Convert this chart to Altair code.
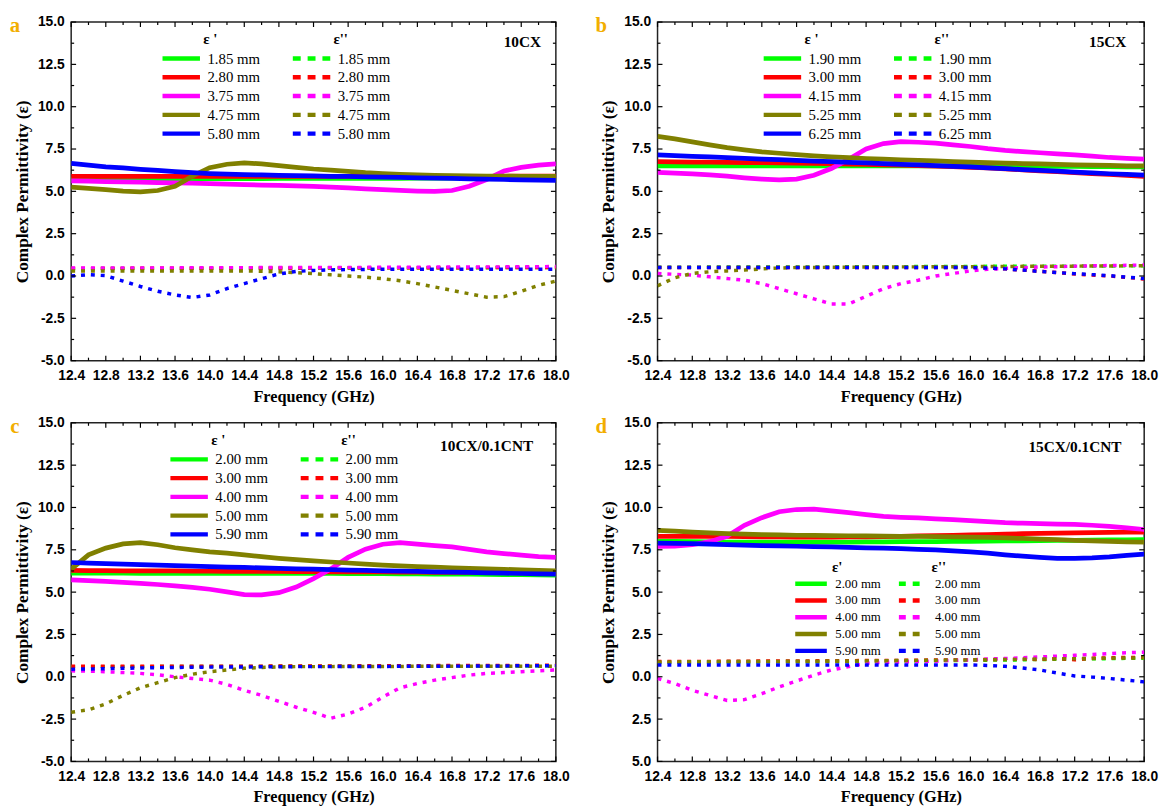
import altair as alt
import pandas as pd

# ---------------- data ----------------
FREQ = [12.4, 12.6, 12.8, 13.0, 13.2, 13.4, 13.6, 13.8, 14.0, 14.2, 14.4, 14.6, 14.8, 15.0, 15.2,
        15.4, 15.6, 15.8, 16.0, 16.2, 16.4, 16.6, 16.8, 17.0, 17.2, 17.4, 17.6, 17.8, 18.0]

X_MAJOR = [12.4, 12.8, 13.2, 13.6, 14.0, 14.4, 14.8, 15.2, 15.6, 16.0, 16.4, 16.8, 17.2, 17.6, 18.0]
X_MINOR = [12.6, 13.0, 13.4, 13.8, 14.2, 14.6, 15.0, 15.4, 15.8, 16.2, 16.6, 17.0, 17.4, 17.8]
Y_MAJOR = [-5.0, -2.5, 0.0, 2.5, 5.0, 7.5, 10.0, 12.5, 15.0]
Y_MINOR = [-3.75, -1.25, 1.25, 3.75, 6.25, 8.75, 11.25, 13.75]

COLORS = ["#00FF00", "#FF0000", "#FF00FF", "#808000", "#0000FF"]

# Panel a : 10CX
A_THICK = ["1.85 mm", "2.80 mm", "3.75 mm", "4.75 mm", "5.80 mm"]
A_REAL = [
    [5.72, 5.72, 5.73, 5.73, 5.73, 5.74, 5.74, 5.74, 5.75, 5.75, 5.75, 5.75, 5.76, 5.76, 5.76, 5.76, 5.77, 5.77, 5.77, 5.77, 5.78, 5.78, 5.78, 5.78, 5.78, 5.79, 5.79, 5.79, 5.79],
    [5.88, 5.88, 5.88, 5.88, 5.88, 5.88, 5.88, 5.88, 5.88, 5.88, 5.88, 5.88, 5.88, 5.88, 5.88, 5.88, 5.88, 5.88, 5.88, 5.88, 5.89, 5.89, 5.89, 5.89, 5.89, 5.89, 5.90, 5.90, 5.90],
    [5.62, 5.60, 5.58, 5.56, 5.54, 5.52, 5.50, 5.48, 5.46, 5.43, 5.40, 5.37, 5.35, 5.33, 5.30, 5.25, 5.20, 5.15, 5.10, 5.06, 5.02, 5.00, 5.05, 5.30, 5.70, 6.20, 6.42, 6.55, 6.62],
    [5.25, 5.18, 5.10, 5.02, 4.97, 5.05, 5.30, 5.90, 6.40, 6.60, 6.68, 6.62, 6.52, 6.42, 6.32, 6.25, 6.18, 6.10, 6.05, 6.00, 5.97, 5.95, 5.93, 5.92, 5.90, 5.90, 5.89, 5.88, 5.88],
    [6.65, 6.55, 6.45, 6.38, 6.30, 6.24, 6.17, 6.10, 6.05, 6.02, 5.99, 5.97, 5.95, 5.93, 5.91, 5.89, 5.88, 5.86, 5.84, 5.82, 5.80, 5.78, 5.76, 5.74, 5.72, 5.70, 5.68, 5.66, 5.65],
]
A_IMAG = [
    [0.43, 0.43, 0.44, 0.44, 0.44, 0.44, 0.45, 0.45, 0.45, 0.45, 0.46, 0.46, 0.46, 0.46, 0.47, 0.47, 0.47, 0.47, 0.48, 0.48, 0.48, 0.48, 0.49, 0.49, 0.49, 0.50, 0.50, 0.50, 0.50],
    [0.45, 0.45, 0.45, 0.45, 0.46, 0.46, 0.46, 0.46, 0.46, 0.47, 0.47, 0.47, 0.47, 0.47, 0.48, 0.48, 0.48, 0.48, 0.48, 0.49, 0.49, 0.49, 0.49, 0.49, 0.50, 0.50, 0.50, 0.50, 0.50],
    [0.47, 0.47, 0.47, 0.48, 0.48, 0.48, 0.48, 0.49, 0.49, 0.49, 0.49, 0.50, 0.50, 0.50, 0.50, 0.51, 0.51, 0.51, 0.52, 0.52, 0.52, 0.53, 0.53, 0.53, 0.54, 0.54, 0.55, 0.55, 0.56],
    [0.30, 0.30, 0.30, 0.30, 0.30, 0.30, 0.30, 0.30, 0.30, 0.30, 0.30, 0.28, 0.25, 0.20, 0.14, 0.07, 0.00, -0.07, -0.16, -0.28, -0.45, -0.65, -0.85, -1.05, -1.25, -1.22, -0.90, -0.55, -0.30],
    [0.00, 0.08, 0.02, -0.30, -0.62, -0.90, -1.12, -1.27, -1.12, -0.74, -0.45, -0.16, 0.12, 0.27, 0.33, 0.36, 0.38, 0.39, 0.40, 0.40, 0.40, 0.40, 0.40, 0.40, 0.40, 0.40, 0.40, 0.40, 0.40],
]

# Panel b : 15CX
B_THICK = ["1.90 mm", "3.00 mm", "4.15 mm", "5.25 mm", "6.25 mm"]
B_REAL = [
    [6.50, 6.50, 6.50, 6.50, 6.50, 6.50, 6.50, 6.50, 6.50, 6.50, 6.50, 6.50, 6.50, 6.50, 6.50, 6.50, 6.50, 6.50, 6.50, 6.50, 6.50, 6.48, 6.48, 6.47, 6.47, 6.46, 6.46, 6.45, 6.45],
    [6.75, 6.74, 6.73, 6.72, 6.71, 6.70, 6.69, 6.68, 6.66, 6.65, 6.63, 6.61, 6.59, 6.57, 6.55, 6.52, 6.49, 6.46, 6.42, 6.38, 6.33, 6.27, 6.21, 6.16, 6.10, 6.05, 6.00, 5.95, 5.88],
    [6.12, 6.08, 6.03, 5.97, 5.90, 5.80, 5.72, 5.68, 5.72, 5.95, 6.35, 6.90, 7.50, 7.82, 7.93, 7.90, 7.85, 7.75, 7.65, 7.52, 7.42, 7.35, 7.28, 7.22, 7.16, 7.08, 7.00, 6.95, 6.90],
    [8.25, 8.10, 7.92, 7.75, 7.58, 7.45, 7.33, 7.25, 7.17, 7.10, 7.04, 6.99, 6.94, 6.90, 6.86, 6.83, 6.80, 6.76, 6.73, 6.70, 6.67, 6.64, 6.62, 6.60, 6.57, 6.55, 6.53, 6.51, 6.50],
    [7.15, 7.11, 7.07, 7.03, 6.99, 6.95, 6.91, 6.87, 6.83, 6.79, 6.75, 6.71, 6.68, 6.64, 6.60, 6.56, 6.52, 6.48, 6.44, 6.39, 6.34, 6.29, 6.24, 6.19, 6.14, 6.09, 6.04, 6.00, 5.96],
]
B_IMAG = [
    [0.52, 0.52, 0.52, 0.53, 0.53, 0.53, 0.53, 0.54, 0.54, 0.54, 0.54, 0.55, 0.55, 0.55, 0.55, 0.56, 0.56, 0.56, 0.56, 0.57, 0.57, 0.57, 0.58, 0.58, 0.58, 0.59, 0.59, 0.60, 0.60],
    [0.50, 0.50, 0.50, 0.50, 0.50, 0.50, 0.50, 0.50, 0.50, 0.50, 0.50, 0.50, 0.50, 0.50, 0.50, 0.50, 0.50, 0.50, 0.50, 0.48, 0.42, 0.35, 0.28, 0.20, 0.12, 0.05, 0.00, -0.08, -0.18],
    [0.15, 0.10, 0.05, -0.05, -0.15, -0.25, -0.45, -0.75, -1.05, -1.35, -1.65, -1.65, -1.20, -0.75, -0.45, -0.25, 0.00, 0.15, 0.30, 0.40, 0.45, 0.50, 0.53, 0.55, 0.58, 0.60, 0.62, 0.63, 0.65],
    [-0.58, -0.10, 0.15, 0.25, 0.30, 0.35, 0.42, 0.47, 0.50, 0.50, 0.52, 0.52, 0.53, 0.53, 0.54, 0.54, 0.55, 0.55, 0.55, 0.56, 0.56, 0.57, 0.57, 0.58, 0.58, 0.59, 0.59, 0.60, 0.60],
    [0.50, 0.50, 0.50, 0.50, 0.50, 0.50, 0.50, 0.50, 0.50, 0.50, 0.50, 0.50, 0.50, 0.50, 0.50, 0.50, 0.50, 0.50, 0.50, 0.47, 0.42, 0.35, 0.27, 0.20, 0.14, 0.08, 0.02, -0.07, -0.15],
]

# Panel c : 10CX/0.1CNT
C_THICK = ["2.00 mm", "3.00 mm", "4.00 mm", "5.00 mm", "5.90 mm"]
C_REAL = [
    [6.12, 6.12, 6.12, 6.12, 6.11, 6.11, 6.11, 6.11, 6.10, 6.10, 6.10, 6.10, 6.10, 6.10, 6.10, 6.10, 6.09, 6.09, 6.09, 6.08, 6.08, 6.07, 6.07, 6.06, 6.05, 6.04, 6.03, 6.02, 6.00],
    [6.28, 6.27, 6.27, 6.26, 6.26, 6.25, 6.25, 6.24, 6.24, 6.23, 6.23, 6.22, 6.22, 6.21, 6.21, 6.20, 6.20, 6.19, 6.19, 6.18, 6.18, 6.17, 6.17, 6.16, 6.16, 6.15, 6.14, 6.13, 6.12],
    [5.73, 5.68, 5.63, 5.58, 5.52, 5.45, 5.37, 5.28, 5.17, 5.02, 4.85, 4.84, 4.97, 5.30, 5.80, 6.37, 7.05, 7.54, 7.83, 7.92, 7.83, 7.75, 7.67, 7.52, 7.38, 7.28, 7.18, 7.10, 7.05],
    [6.35, 7.20, 7.60, 7.85, 7.92, 7.80, 7.62, 7.50, 7.38, 7.30, 7.20, 7.10, 7.00, 6.92, 6.85, 6.78, 6.72, 6.66, 6.60, 6.55, 6.50, 6.47, 6.44, 6.41, 6.38, 6.35, 6.31, 6.28, 6.25],
    [6.75, 6.72, 6.69, 6.66, 6.63, 6.60, 6.57, 6.54, 6.51, 6.48, 6.46, 6.43, 6.41, 6.38, 6.36, 6.33, 6.30, 6.28, 6.26, 6.24, 6.22, 6.20, 6.18, 6.16, 6.14, 6.12, 6.10, 6.08, 6.06],
]
C_IMAG = [
    [0.60, 0.60, 0.60, 0.60, 0.60, 0.60, 0.61, 0.61, 0.61, 0.61, 0.61, 0.61, 0.62, 0.62, 0.62, 0.62, 0.62, 0.62, 0.63, 0.63, 0.63, 0.63, 0.63, 0.64, 0.64, 0.64, 0.64, 0.65, 0.65],
    [0.62, 0.62, 0.62, 0.62, 0.62, 0.62, 0.63, 0.63, 0.63, 0.63, 0.63, 0.63, 0.64, 0.64, 0.64, 0.64, 0.64, 0.65, 0.65, 0.65, 0.65, 0.66, 0.66, 0.66, 0.66, 0.67, 0.67, 0.68, 0.68],
    [0.35, 0.33, 0.30, 0.25, 0.20, 0.12, 0.00, -0.10, -0.20, -0.45, -0.80, -1.10, -1.45, -1.80, -2.10, -2.45, -2.20, -1.80, -1.20, -0.65, -0.40, -0.20, -0.05, 0.10, 0.20, 0.25, 0.30, 0.35, 0.40],
    [-2.10, -1.95, -1.60, -1.10, -0.65, -0.35, -0.05, 0.15, 0.30, 0.40, 0.50, 0.55, 0.58, 0.60, 0.60, 0.60, 0.61, 0.61, 0.61, 0.61, 0.62, 0.62, 0.62, 0.62, 0.62, 0.62, 0.62, 0.62, 0.62],
    [0.45, 0.46, 0.48, 0.50, 0.52, 0.54, 0.55, 0.56, 0.57, 0.58, 0.58, 0.59, 0.59, 0.60, 0.60, 0.60, 0.61, 0.61, 0.61, 0.62, 0.62, 0.62, 0.63, 0.63, 0.64, 0.64, 0.65, 0.65, 0.66],
]

# Panel d : 15CX/0.1CNT
D_THICK = ["2.00 mm", "3.00 mm", "4.00 mm", "5.00 mm", "5.90 mm"]
D_REAL = [
    [8.00, 8.00, 7.98, 7.97, 7.96, 7.96, 7.95, 7.95, 7.95, 7.95, 7.96, 7.96, 7.97, 7.97, 7.98, 7.98, 7.99, 8.00, 8.00, 8.01, 8.02, 8.03, 8.04, 8.05, 8.06, 8.07, 8.08, 8.09, 8.10],
    [8.30, 8.30, 8.30, 8.30, 8.30, 8.28, 8.27, 8.26, 8.25, 8.25, 8.25, 8.26, 8.27, 8.28, 8.30, 8.32, 8.34, 8.36, 8.38, 8.40, 8.43, 8.45, 8.47, 8.48, 8.50, 8.52, 8.53, 8.54, 8.55],
    [7.70, 7.72, 7.80, 7.98, 8.30, 8.95, 9.40, 9.75, 9.88, 9.90, 9.80, 9.70, 9.58, 9.47, 9.42, 9.38, 9.33, 9.28, 9.22, 9.16, 9.10, 9.07, 9.05, 9.02, 9.00, 8.95, 8.88, 8.80, 8.70],
    [8.65, 8.60, 8.55, 8.50, 8.46, 8.43, 8.40, 8.38, 8.36, 8.35, 8.34, 8.33, 8.32, 8.31, 8.30, 8.29, 8.28, 8.27, 8.25, 8.23, 8.20, 8.17, 8.13, 8.10, 8.06, 8.03, 8.00, 7.97, 7.95],
    [7.90, 7.88, 7.86, 7.83, 7.80, 7.78, 7.75, 7.73, 7.71, 7.69, 7.67, 7.65, 7.62, 7.60, 7.57, 7.53, 7.49, 7.44, 7.38, 7.30, 7.20, 7.12, 7.05, 7.00, 7.00, 7.02, 7.08, 7.17, 7.25],
]
D_IMAG = [
    [0.85, 0.85, 0.86, 0.86, 0.87, 0.87, 0.88, 0.88, 0.89, 0.89, 0.90, 0.90, 0.91, 0.92, 0.93, 0.94, 0.95, 0.96, 0.97, 0.98, 0.99, 1.00, 1.02, 1.03, 1.04, 1.06, 1.07, 1.09, 1.10],
    [0.90, 0.90, 0.91, 0.91, 0.92, 0.92, 0.93, 0.93, 0.94, 0.94, 0.95, 0.95, 0.96, 0.96, 0.97, 0.98, 0.99, 1.00, 1.00, 1.02, 1.03, 1.05, 1.02, 1.08, 1.00, 1.10, 1.12, 1.14, 1.15],
    [-0.10, -0.40, -0.80, -1.10, -1.40, -1.35, -1.00, -0.60, -0.25, 0.10, 0.40, 0.60, 0.80, 0.85, 0.88, 0.90, 0.92, 0.97, 1.00, 1.05, 1.08, 1.12, 1.17, 1.22, 1.27, 1.32, 1.37, 1.42, 1.45],
    [0.88, 0.88, 0.89, 0.89, 0.90, 0.90, 0.91, 0.91, 0.92, 0.92, 0.93, 0.93, 0.94, 0.95, 0.96, 0.97, 0.98, 0.99, 1.00, 1.01, 1.02, 1.03, 1.05, 1.06, 1.07, 1.08, 1.10, 1.11, 1.12],
    [0.70, 0.70, 0.70, 0.70, 0.70, 0.70, 0.70, 0.70, 0.70, 0.70, 0.70, 0.70, 0.70, 0.70, 0.70, 0.70, 0.70, 0.70, 0.70, 0.67, 0.62, 0.52, 0.40, 0.22, 0.05, -0.02, -0.10, -0.20, -0.30],
]

# ---------------- styling ----------------
H = 343
SERIF = "Liberation Serif"
SANS = "Liberation Sans"
LETTER_COLOR = "#F2AE00"


def long_df(thick, values):
    rows = []
    for i, name in enumerate(thick):
        for j, f in enumerate(FREQ):
            rows.append({"t": name, "k": i, "f": f, "v": values[i][j]})
    return pd.DataFrame(rows)


def make_legend(title, lx, ly, size, fs, clip, rowpad, loff, dash=None, tpad=4):
    kw = dict(
        title=title, orient="none", legendX=lx, legendY=ly,
        symbolType="stroke", symbolSize=size, symbolStrokeWidth=4.5,
        symbolOpacity=1, clipHeight=clip, rowPadding=rowpad,
        labelFont=SERIF, labelFontSize=fs, labelColor="black", labelOffset=loff,
        titleFont=SERIF, titleFontSize=15, titleFontWeight="bold", titleColor="black",
        titleAnchor="middle", titleAlign="center", titlePadding=tpad, padding=0,
    )
    if dash is not None:
        kw["symbolDash"] = dash
    return alt.Legend(**kw)


def panel(letter, tag, thick, real, imag, legs, W=491, abs_labels=False, tag_dx=15, tag_y=20):
    xs = alt.Scale(domain=[12.4, 18.0], nice=False, zero=False)
    ys = alt.Scale(domain=[-5.0, 15.0], nice=False, zero=False)
    if abs_labels:
        ylab = "format(abs(datum.value), '.1f')"
    else:
        ylab = "(datum.value < 0 ? '-' : '') + format(abs(datum.value), '.1f')"
    common_axis = dict(
        grid=False, domain=False, ticks=False, tickSize=0,
        labelFont=SANS, labelFontWeight="bold", labelFontSize=14, labelColor="black",
        titleFont=SERIF, titleFontWeight="bold", titleColor="black",
        labelFlush=False, labelOverlap=False,
    )
    x_axis = alt.Axis(values=X_MAJOR, labelExpr="format(datum.value, '.1f')",
                      title="Frequency (GHz)", titleFontSize=16.5,
                      labelPadding=8, titlePadding=6, **common_axis)
    y_axis = alt.Axis(values=Y_MAJOR, labelExpr=ylab, title="Complex Permittivity (ε)",
                      titleFontSize=17.5, labelPadding=7, titlePadding=6, **common_axis)

    X = alt.X("f:Q", scale=xs, axis=x_axis, title="Frequency (GHz)")
    Y = alt.Y("v:Q", scale=ys, axis=y_axis, title="Complex Permittivity (ε)")

    cscale = alt.Scale(domain=thick, range=COLORS)
    real_layer = alt.Chart(long_df(thick, real)).mark_line(
        strokeWidth=4.8, strokeCap="butt", clip=True
    ).encode(
        x=X, y=Y,
        color=alt.Color("t:N", scale=cscale, sort=thick, legend=legs[0]),
        detail="k:O",
    )
    imag_layer = alt.Chart(long_df(thick, imag)).mark_line(
        strokeWidth=3.5, strokeDash=[4, 6], strokeCap="butt", clip=True
    ).encode(
        x=X, y=Y,
        color=alt.Color("t:N", scale=cscale, sort=thick, legend=legs[1]),
        detail="k:O",
    )

    def xticks(vals, length):
        df = pd.DataFrame({"f": vals})
        b = alt.Chart(df).mark_rule(color="black", strokeWidth=1.2).encode(
            x=X, y=alt.value(H), y2=alt.value(H - length))
        t = alt.Chart(df).mark_rule(color="black", strokeWidth=1.2).encode(
            x=X, y=alt.value(0), y2=alt.value(length))
        return [b, t]

    def yticks(vals, length):
        df = pd.DataFrame({"v": vals})
        l = alt.Chart(df).mark_rule(color="black", strokeWidth=1.2).encode(
            y=Y, x=alt.value(0), x2=alt.value(length))
        r = alt.Chart(df).mark_rule(color="black", strokeWidth=1.2).encode(
            y=Y, x=alt.value(W), x2=alt.value(W - length))
        return [l, r]

    tag_layer = alt.Chart(pd.DataFrame({"s": [tag]})).mark_text(
        font=SERIF, fontWeight="bold", fontSize=15.5, color="black", align="right", baseline="middle"
    ).encode(x=alt.value(W - tag_dx), y=alt.value(tag_y), text="s:N")

    letter_layer = alt.Chart(pd.DataFrame({"s": [letter]})).mark_text(
        font=SERIF, fontWeight="bold", fontSize=21, color=LETTER_COLOR, align="center", baseline="middle"
    ).encode(x=alt.value(-57), y=alt.value(4), text="s:N")

    layers = [real_layer, imag_layer] + xticks(X_MAJOR, 5) + xticks(X_MINOR, 3) \
        + yticks(Y_MAJOR, 5) + yticks(Y_MINOR, 3) + [tag_layer, letter_layer]
    return alt.layer(*layers).resolve_scale(color="independent").properties(width=W, height=H)


LEG_STD = dict(size=1440, fs=15, clip=16, rowpad=3, loff=5)

pa = panel("a", "10CX", A_THICK, A_REAL, A_IMAG, [
    make_legend("ε '", 90, 10, **LEG_STD),
    make_legend("ε''", 222, 10, dash=[8, 7], **LEG_STD),
])
pb = panel("b", "15CX", B_THICK, B_REAL, B_IMAG, [
    make_legend("ε '", 105, 10, **LEG_STD),
    make_legend("ε''", 237, 10, dash=[8, 7], **LEG_STD),
], W=493, tag_dx=18)
pc = panel("c", "10CX/0.1CNT", C_THICK, C_REAL, C_IMAG, [
    make_legend("ε '", 98, 10, **LEG_STD),
    make_legend("ε''", 230, 10, dash=[8, 7], **LEG_STD),
], tag_dx=23, tag_y=24)
pd_ = panel("d", "15CX/0.1CNT", D_THICK, D_REAL, D_IMAG, [
    make_legend("ε'", 137, 139, size=1024, fs=13, clip=14, rowpad=3, loff=6, tpad=2),
    make_legend("ε''", 242, 139, size=441, fs=13, clip=14, rowpad=3, loff=13, dash=[7, 7], tpad=2),
], W=493, abs_labels=True, tag_dx=23, tag_y=25)

chart = alt.vconcat(
    alt.hconcat(pa, pb, spacing=24),
    alt.hconcat(pc, pd_, spacing=24),
    spacing=9,
).properties(
    padding={"left": 1, "top": 1, "right": 0, "bottom": 0},
    background="white",
).configure_view(
    stroke="#222222", strokeWidth=1.5
)

chart.save("out.html", embed_options={"renderer": "svg", "actions": False})
